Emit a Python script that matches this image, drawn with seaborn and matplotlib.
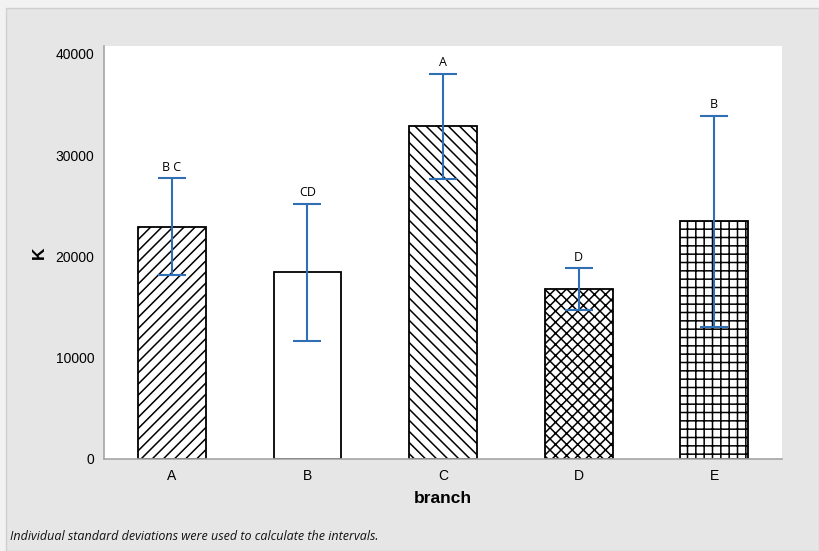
import matplotlib
matplotlib.use("Agg")
import matplotlib.pyplot as plt
import matplotlib.patches as mpatches
import seaborn as sns
import pandas as pd
import numpy as np

# Mean K per branch with half-widths of the intervals
branches = ["A", "B", "C", "D", "E"]
means = [22950, 18420, 32850, 16760, 23480]
half_widths = [4760, 6790, 5220, 2090, 10400]
groups = ["B C", "CD", "A", "D", "B"]
hatches = ["///", "", "\\\\\\", "xxx", "++"]

df = pd.DataFrame({"branch": branches, "K": means})

sns.set_theme(style="white")
plt.rcParams["font.family"] = ["Liberation Sans", "DejaVu Sans"]
plt.rcParams["hatch.linewidth"] = 1.1

fig = plt.figure(figsize=(8.19, 5.51), dpi=100, facecolor="#f2f2f2")
panel = mpatches.Rectangle((6 / 819, 0), 1 - 6 / 819, 1 - 8 / 551,
                           transform=fig.transFigure, facecolor="#e6e6e6",
                           edgecolor="#cfcfcf", linewidth=1.0, zorder=-10)
fig.add_artist(panel)
ax = fig.add_axes([104 / 819, 92 / 551, 678 / 819, 413 / 551])
ax.set_zorder(1)
ax.set_facecolor("white")

sns.barplot(data=df, x="branch", y="K", color="white", edgecolor="black",
            linewidth=1.3, width=0.5, errorbar=None, saturation=1, ax=ax)
for bar, h in zip(ax.patches, hatches):
    bar.set_hatch(h)
    bar.set_facecolor("white")
    bar.set_edgecolor("black")

xpos = np.arange(len(branches))
ax.errorbar(xpos, means, yerr=half_widths, fmt="none", ecolor="#2f6fb4",
            elinewidth=1.5, capsize=10, capthick=1.5, zorder=5)
for x, m, hw, g in zip(xpos, means, half_widths, groups):
    ax.text(x, m + hw + 450, g, ha="center", va="bottom", fontsize=9,
            family=["Open Sans", "DejaVu Sans"], color="black")

ax.set_xlim(-0.5, 4.5)
ax.set_ylim(0, 40790)
ax.set_yticks([0, 10000, 20000, 30000, 40000])
ax.set_yticklabels(["0", "10000", "20000", "30000", "40000"])
for s in ["top", "right"]:
    ax.spines[s].set_visible(False)
for s in ["left", "bottom"]:
    ax.spines[s].set_color("#a6a6a6")
    ax.spines[s].set_linewidth(1.2)
ax.tick_params(axis="both", which="both", length=4, width=1, color="#a6a6a6",
               labelsize=10, labelcolor="black", direction="out", pad=3)

ax.set_xlabel("branch", fontsize=12.5, fontweight="bold", labelpad=6, color="black")
ax.set_ylabel("K", fontsize=12.5, fontweight="bold", labelpad=6, color="black")

fig.text(10 / 819, 1 - 536 / 551, "Individual standard deviations were used to calculate the intervals.",
         fontsize=9, style="italic", family=["Open Sans", "DejaVu Sans"], color="#111111",
         va="center", ha="left")

fig.savefig("out.png", dpi=100, facecolor=fig.get_facecolor())
